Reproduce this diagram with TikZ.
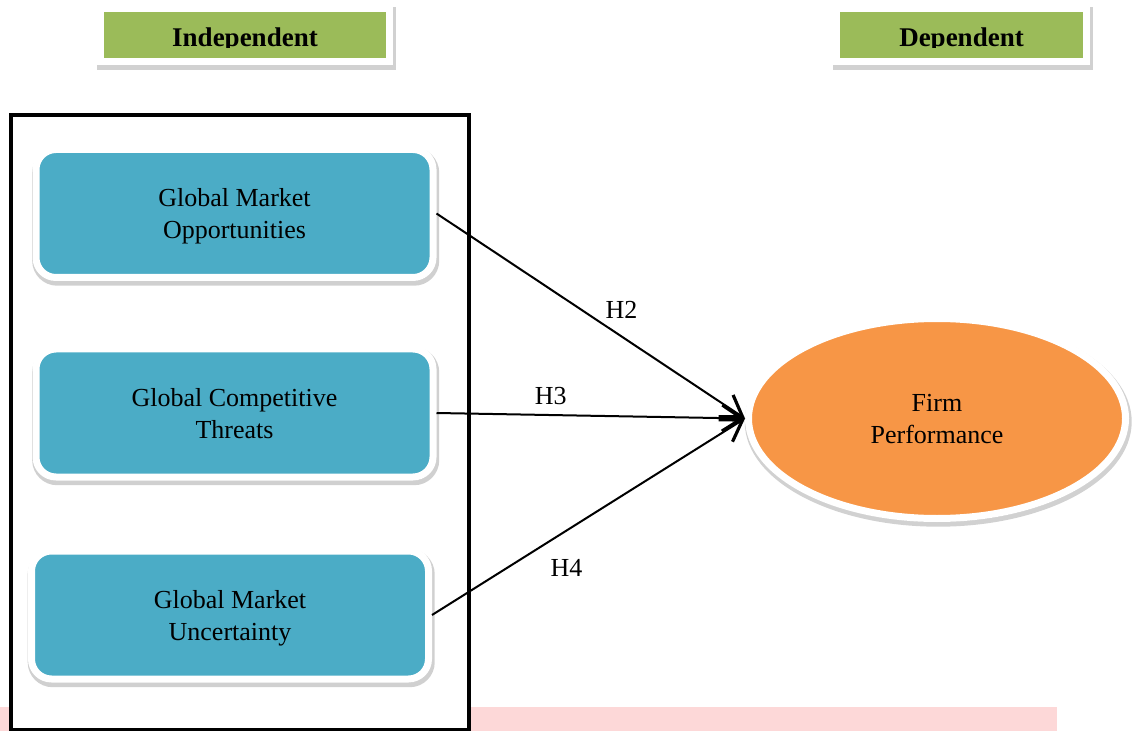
\documentclass[tikz,border=0pt]{standalone}
\usepackage{fontspec}
\setmainfont{Liberation Serif}
\usetikzlibrary{calc,positioning,arrows.meta,shapes,shadows}
\definecolor{hdrgreen}{HTML}{9BBB59}
\definecolor{varteal}{HTML}{4BACC6}
\definecolor{fporange}{HTML}{F79646}
\definecolor{stripink}{HTML}{FDD8D8}

\begin{document}
\begin{tikzpicture}[x=0.5pt, y=-0.5pt]
\tikzstyle{shdw}=[drop shadow={shadow xshift=0.6pt, shadow yshift=-1.6pt, opacity=.3,
                        fill=black!60, draw=black!60, line width=5pt}]
\tikzstyle{hdr}=[rectangle, fill=hdrgreen, draw=white, line width=3.5pt, shdw,
                        minimum height=26.5pt, inner sep=0pt]
\tikzstyle{hdrtxt}=[inner sep=0pt, font=\fontsize{13.5}{16}\selectfont\bfseries]
\tikzstyle{var}=[rectangle, rounded corners=10pt, fill=varteal, draw=white, line width=3.5pt, shdw,
                        minimum width=198.5pt, minimum height=64pt, align=center, text depth=0pt,
                        font=\fontsize{13}{16}\selectfont]
\tikzstyle{hyp}=[inner sep=2pt, font=\fontsize{13}{16}\selectfont]
\useasboundingbox (0,0) rectangle (1138,731);
% strip at the foot of the page
\fill[stripink] (0,707) rectangle (1057,731);
% group of independent variables
\draw[line width=2pt, fill=white] (11,115) rectangle (469,729.5);
% headers
\node[hdr, minimum width=144.5pt] (indhdr) at (245,35) {};
\node[hdr, minimum width=125pt] (dephdr) at (961.5,35) {};
\begin{scope}
\clip (105,12) rectangle (1082,47.5);
\node[hdrtxt, anchor=base] (indtxt) at (245,46.5) {Independent};
\node[hdrtxt, anchor=base] (deptxt) at (961.5,46.5) {Dependent};
\end{scope}
% variables
\node[var] (gmo) at (234.5,213.5) {Global Market\\Opportunities};
\node[var] (gct) at (234.5,413) {Global Competitive\\Threats};
\node[var] (gmu) at (230,615) {Global Market\\Uncertainty};
\node[ellipse, fill=fporange, draw=white, line width=3.5pt, shdw,
      minimum width=188.5pt, minimum height=100pt, align=center, text depth=0pt,
      font=\fontsize{13}{16}\selectfont] (fp) at (937,418.5) {Firm\\Performance};
% hypotheses
\foreach \i/\k/\p/\d in {gmo/H2/0.6/13.5pt,gct/H3/0.37/9.3pt,gmu/H4/0.43/-18.5pt}{
  \draw[line width=1pt, -{Straight Barb[length=10pt,width=13pt,line width=1.6pt]}]
    (\i.east) -- node[hyp, pos=\p, yshift=\d]{\k} (fp.west);}
\end{tikzpicture}
\end{document}
